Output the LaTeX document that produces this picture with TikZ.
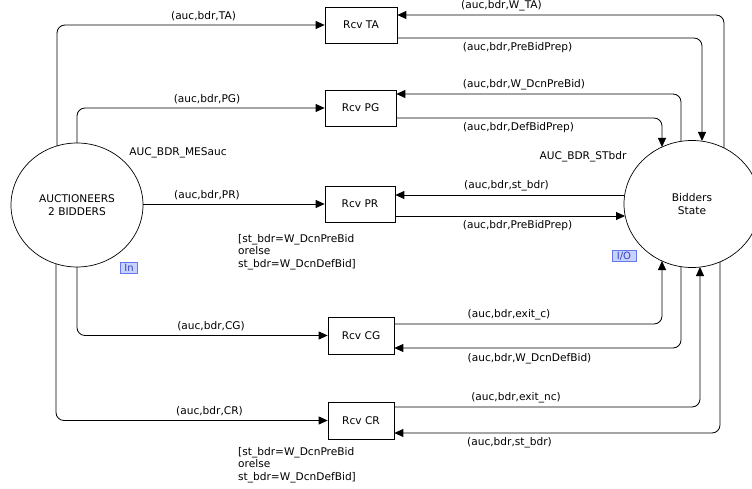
\documentclass[tikz,border=0pt]{standalone}
\usepackage{fontspec}
\setmainfont{DejaVu Sans}
\usetikzlibrary{shapes.geometric,arrows.meta}
\definecolor{tagfill}{HTML}{C8D2FF}
\definecolor{tagdraw}{HTML}{6677EE}
\definecolor{tagtext}{HTML}{3344BB}
\begin{document}
\begin{tikzpicture}[x=1pt,y=-1pt,
  font=\fontsize{10.6}{12.6}\selectfont,
  place/.style={draw,ellipse,line width=0.7pt,inner sep=0pt},
  trans/.style={draw,line width=0.7pt,minimum height=36pt,inner sep=0pt},
  arc/.style={line width=0.8pt,rounded corners=8pt,-{Triangle[length=9pt,width=8pt]}},
  lbl/.style={inner sep=0pt},
  guard/.style={inner sep=0pt,align=left,anchor=north west},
  tag/.style={draw=tagdraw,fill=tagfill,text=tagtext,inner sep=0pt,line width=0.6pt,font=\fontsize{10}{10}\selectfont}]
\useasboundingbox (0,0) rectangle (752,489);
% places
\node[place,minimum width=132pt,minimum height=124pt,align=center] (auc) at (77,205) {AUCTIONEERS\\2 BIDDERS};
\node[place,minimum width=136pt,minimum height=127pt,align=center] (bs) at (692,204) {Bidders\\State};
% transitions
\node[trans,minimum width=72pt] (ta) at (361,25) {Rcv TA};
\node[trans,minimum width=71pt] (pg) at (360.5,108) {Rcv PG};
\node[trans,minimum width=70pt] (pr) at (360,204) {Rcv PR};
\node[trans,minimum width=66pt,minimum height=37pt] (cg) at (361,335.5) {Rcv CG};
\node[trans,minimum width=66pt,minimum height=37pt] (cr) at (361,420.5) {Rcv CR};
% border points
\coordinate (aTA) at (57,146);
\coordinate (aPG) at (77,143);
\coordinate (aCG) at (77,267);
\coordinate (aCR) at (56,264);
\coordinate (bWTA) at (724,148);
\coordinate (bPBP) at (702,141);
\coordinate (bWDP) at (681,141);
\coordinate (bDBP) at (662,147);
\coordinate (bEC) at (662,261);
\coordinate (bWDD) at (681,267);
\coordinate (bENC) at (700,267);
\coordinate (bST) at (720,262);
% left arcs
\draw[arc] (aTA) |- (ta.west);
\draw[arc] (aPG) |- (pg.west);
\draw[arc] (auc.east |- pr.west) -- (pr.west);
\draw[arc] (aCG) |- (cg.west);
\draw[arc] (aCR) |- (cr.west);
% right arcs
\draw[arc] (bWTA) |- (ta.east |- 0,15);
\draw[arc] (ta.east |- 0,38) -| (bPBP);
\draw[arc] (bWDP) |- (pg.east |- 0,94);
\draw[arc] (pg.east |- 0,118) -| (bDBP);
\draw[arc] (bs.west |- 0,195) -- (pr.east |- 0,195);
\draw[arc] (pr.east |- 0,216) -- (625,216);
\draw[arc] (cg.east |- 0,324) -| (bEC);
\draw[arc] (bWDD) |- (cg.east |- 0,348);
\draw[arc] (cr.east |- 0,407) -| (bENC);
\draw[arc] (bST) |- (cr.east |- 0,433);
% labels
\node[lbl] at (203.5,16.5) {(auc,bdr,TA)};
\node[lbl] at (207,99.5) {(auc,bdr,PG)};
\node[lbl] at (207,195) {(auc,bdr,PR)};
\node[lbl] at (211,326) {(auc,bdr,CG)};
\node[lbl] at (209.5,410.7) {(auc,bdr,CR)};
\node[lbl] at (178,152.7) {AUC\_BDR\_MESauc};
\node[lbl] at (583,156.7) {AUC\_BDR\_STbdr};
\node[lbl] at (501.5,5.5) {(auc,bdr,W\_TA)};
\node[lbl] at (517.5,48) {(auc,bdr,PreBidPrep)};
\node[lbl] at (524,85) {(auc,bdr,W\_DcnPreBid)};
\node[lbl] at (518.5,127.7) {(auc,bdr,DefBidPrep)};
\node[lbl] at (506.5,186) {(auc,bdr,st\_bdr)};
\node[lbl] at (517.5,225.7) {(auc,bdr,PreBidPrep)};
\node[lbl] at (509,315) {(auc,bdr,exit\_c)};
\node[lbl] at (529.5,358.3) {(auc,bdr,W\_DcnDefBid)};
\node[lbl] at (516,397.3) {(auc,bdr,exit\_nc)};
\node[lbl] at (509.5,442.3) {(auc,bdr,st\_bdr)};
\node[guard] (g1) at (238,234) {[st\_bdr=W\_DcnPreBid\\orelse\\st\_bdr=W\_DcnDefBid]};
\node[guard] (g2) at (238,447) {[st\_bdr=W\_DcnPreBid\\orelse\\st\_bdr=W\_DcnDefBid]};
\node[tag,minimum width=17pt,minimum height=11pt] (tin) at (129,268) {In};
\node[tag,minimum width=24pt,minimum height=10.5pt] (tio) at (624,256) {I/O};
\end{tikzpicture}
\end{document}
